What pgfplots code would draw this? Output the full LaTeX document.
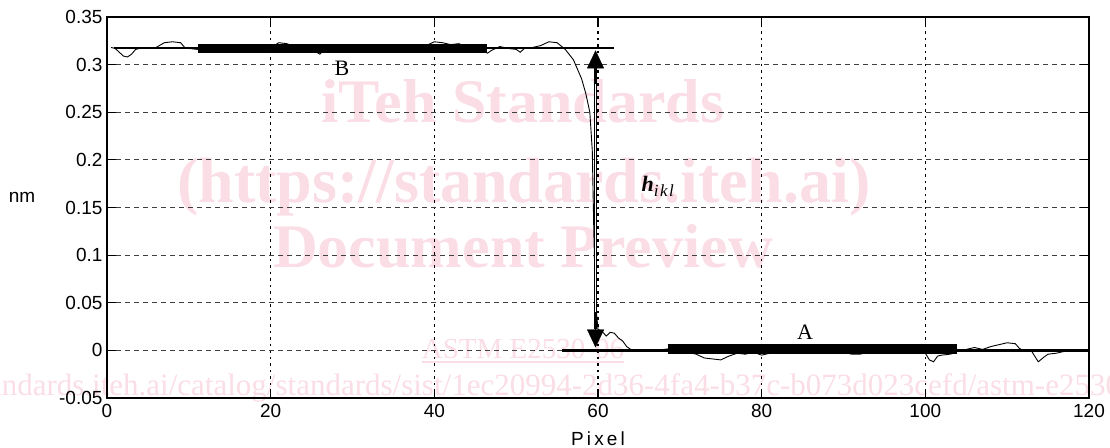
\documentclass[border=0pt]{standalone}
\usepackage{pgfplots}
\pgfplotsset{compat=1.18}
\usepackage{fontspec}
\setmainfont{Liberation Serif}
\newfontfamily\sans{Liberation Sans}
\usetikzlibrary{arrows.meta}
\definecolor{wm}{RGB}{250,221,229}
\begin{document}
\begin{tikzpicture}
\path[use as bounding box, clip] (-107pt,-49pt) rectangle (1003pt,398pt);
% watermark
\begin{scope}[every node/.style={text=wm, inner sep=0pt, anchor=base}]
\node[font=\bfseries\fontsize{62}{70}\selectfont] at (416pt,275pt) {iTeh Standards};
\node[font=\bfseries\fontsize{64}{70}\selectfont] at (417pt,195pt) {(https://standards.iteh.ai)};
\node[font=\bfseries\fontsize{62}{70}\selectfont] at (416pt,130pt) {Document Preview};
\node[font=\fontsize{29}{33}\selectfont] (astm) at (416pt,40pt) {ASTM E2530-06};
\draw[wm, line width=1.2pt] ([yshift=-4pt]astm.base west) -- ([yshift=-4pt]astm.base east);
\node[font=\fontsize{31}{35}\selectfont, anchor=base west] at (-226pt,3pt) {https://standards.iteh.ai/catalog/standards/sist/1ec20994-2d36-4fa4-b37c-b073d023cefd/astm-e2530-06};
\end{scope}
\begin{axis}[
  at={(0pt,0pt)}, anchor=south west,
  scale only axis, width=982pt, height=381pt,
  xmin=0, xmax=120, ymin=-0.05, ymax=0.35,
  xtick={0,20,...,120},
  ytick={-0.05,0,0.05,0.1,0.15,0.2,0.25,0.3,0.35},
  yticklabels={-0.05,0,0.05,0.1,0.15,0.2,0.25,0.3,0.35},
  /pgf/number format/assume math mode=true,
  ticklabel style={font=\sans\fontsize{19}{22}\selectfont},
  xticklabel style={yshift=-3pt},
  yticklabel style={xshift=-1pt},
  tick align=inside, major tick length=9pt,
  tick style={black, line width=1.2pt},
  axis line style={line width=1.5pt},
  grid=major,
  x grid style={black, line width=1.2pt, dash pattern=on 2.5pt off 4pt},
  y grid style={black!75, line width=1.2pt, dash pattern=on 5pt off 4pt},
  clip=false,
]
% horizontal reference lines
\addplot[black, line width=2.5pt] coordinates {(0.8,0.3175) (61.9,0.3175)};
\addplot[black, line width=2.5pt] coordinates {(55.6,0.0) (120,0.0)};
% thick bars
\addplot[black, line width=9pt] coordinates {(11.1,0.3165) (46.4,0.3165)};
\addplot[black, line width=10pt] coordinates {(68.5,0.0015) (103.9,0.0015)};
% profile
\addplot[black, line width=0.9pt] coordinates {
(0.5,0.318) (1,0.317) (1.5,0.313) (2,0.309) (2.5,0.308) (3,0.311) (3.5,0.316) (4,0.317)
(5,0.317) (6,0.318) (7,0.323) (8,0.324) (9,0.323) (9.5,0.318) (10,0.317) (11,0.316)
(12,0.317) (13,0.318) (14,0.317) (15,0.319) (16,0.320) (17,0.318) (18,0.317) (19,0.316)
(20,0.318) (21,0.323) (22,0.322) (23,0.318) (24,0.317) (25,0.316) (26,0.311) (26.5,0.315)
(27,0.317) (28,0.318) (29,0.317) (30,0.316) (31,0.318) (32,0.317) (33,0.319) (34,0.317)
(35,0.316) (36,0.318) (37,0.317) (38,0.318) (39,0.320) (40,0.324) (41,0.323) (42,0.321)
(43,0.322) (44,0.318) (45,0.316) (46,0.314) (46.5,0.312) (47,0.315) (48,0.319) (49,0.317)
(50,0.316) (50.5,0.313) (51,0.317) (52,0.318) (53,0.320) (54,0.324) (55,0.323) (56,0.316)
(57,0.305) (58,0.285) (58.5,0.270) (59,0.250) (59.3,0.21) (59.5,0.12) (59.7,0.05) (60,0.022)
(60.5,0.020) (61,0.015) (61.5,0.019) (62,0.018) (62.5,0.013) (63,0.010) (63.5,0.004) (64,0.001)
(65,0.000) (66,0.000) (67,-0.001) (68,0.001) (69,0.002) (70,0.000) (71,-0.002) (72,-0.004)
(73,-0.008) (74,-0.009) (75,-0.010) (76,-0.006) (77,-0.003) (78,-0.004) (79,-0.002) (80,-0.005)
(81,-0.003) (82,0.000) (83,0.001) (84,-0.001) (85,0.000) (86,0.002) (87,0.001) (88,-0.001)
(89,0.000) (90,-0.002) (91,-0.004) (92,-0.004) (93,-0.002) (94,0.000) (95,0.001) (96,0.003)
(97,0.004) (98,0.001) (99,0.000) (100,-0.003) (100.5,-0.010) (101,-0.012) (101.5,-0.006) (102,-0.005)
(103,-0.004) (103.5,-0.003) (104,0.000) (105,0.001) (106,0.003) (107,0.001) (108,0.004) (109,0.006)
(110,0.008) (111,0.007) (111.5,0.002) (112,0.000) (113,-0.001) (113.8,-0.012) (114.5,-0.007) (115,-0.004)
(116,-0.003) (117,-0.001) (117.5,0.000)
};
% double arrow h_ikl
\draw[black, line width=0.7pt, double=white, double distance=1.6pt]
  (axis cs:59.7,0.296) -- (axis cs:59.7,0.022);
\draw[black, -{Triangle[width=17pt,length=18pt]}] (axis cs:59.7,0.28) -- (axis cs:59.7,0.315);
\draw[black, -{Triangle[width=17pt,length=18pt]}] (axis cs:59.7,0.04) -- (axis cs:59.7,0.003);
\node[font=\fontsize{22}{24}\selectfont] at (axis cs:28.7,0.296) {B};
\node[font=\fontsize{22}{24}\selectfont] at (axis cs:85.3,0.0194) {A};
\node[anchor=west, inner sep=0pt] at (axis cs:65.3,0.172) {\fontsize{22}{24}\selectfont\textbf{\textit{h}}\raisebox{-5pt}{\fontsize{17}{19}\selectfont\textit{i\kern1.5pt k\kern1.5pt l}}};
\end{axis}
\node[font=\sans\fontsize{19}{22}\selectfont] at (-85pt,201pt) {nm};
\node[font=\sans\fontsize{19}{22}\selectfont, anchor=base] at (491pt,-47pt) {P\,i\,x\,e\,l};
\end{tikzpicture}
\end{document}
